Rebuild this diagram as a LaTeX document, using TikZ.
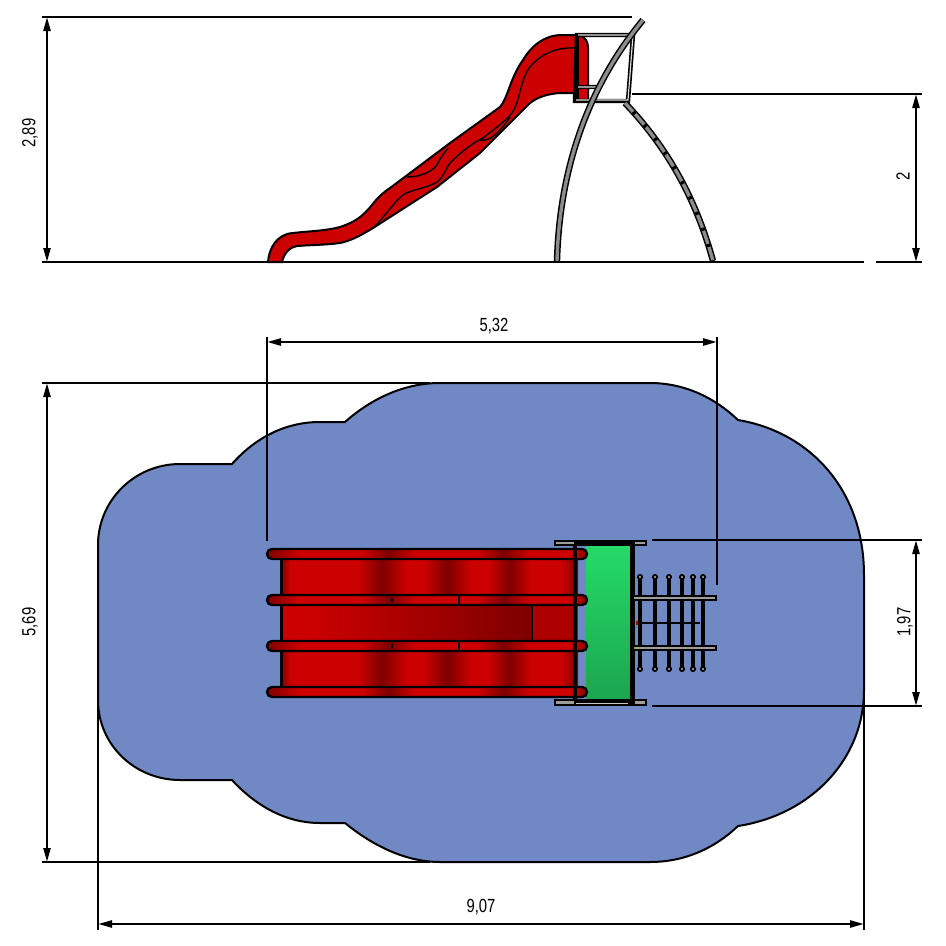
\documentclass[tikz,border=0pt]{standalone}
\usepackage{fontspec}
\setmainfont{Liberation Sans}
\usetikzlibrary{arrows.meta}
\definecolor{blobblue}{HTML}{7088C4}
\definecolor{slidered}{HTML}{CC0000}
\definecolor{sd}{HTML}{7E0000}
\definecolor{archgray}{HTML}{8C8C88}
\pgfdeclarehorizontalshading{panelshade}{100bp}{
 color(0bp)=(sd);color(25bp)=(sd);color(26.5bp)=(slidered);color(38bp)=(slidered);color(42bp)=(sd);
 color(46bp)=(slidered);color(49bp)=(slidered);color(53bp)=(sd);color(57bp)=(slidered);color(60bp)=(slidered);color(63.5bp)=(sd);
 color(67bp)=(slidered);color(72bp)=(slidered);color(75bp)=(sd);color(100bp)=(sd)}
\pgfdeclarehorizontalshading{midshade}{100bp}{
 color(0bp)=(slidered);color(25bp)=(slidered);color(30bp)=(slidered);color(75bp)=(sd);color(100bp)=(sd)}
\pgfdeclarehorizontalshading{railshade}{100bp}{
 color(0bp)=(slidered);color(25bp)=(sd);color(30bp)=(slidered);color(40bp)=(slidered);color(44bp)=(sd);color(48bp)=(slidered);
 color(58bp)=(slidered);color(62bp)=(sd);color(66bp)=(slidered);color(73bp)=(slidered);color(75bp)=(sd);color(100bp)=(sd)}
\tikzset{
 dimline/.style={line width=2.4pt,black,{Triangle[length=14pt,width=7pt]}-{Triangle[length=14pt,width=7pt]}},
 extline/.style={line width=2.4pt,black},
 dimtext/.style={font=\fontsize{19}{19}\selectfont,inner sep=0pt,text=black},
 outline/.style={draw=black,line width=2pt},
 thinline/.style={draw=black,line width=1.4pt},
 rail/.style={draw=black,line width=2.4pt,rounded corners=5pt,shading=railshade},
 rung/.style={line width=3.4pt,black},
 graybar/.style={fill=archgray!85!white,draw=black,line width=2pt},
}
\begin{document}
\begin{tikzpicture}[x=1pt,y=-1pt]
\useasboundingbox (0,0) rectangle (946,946);
% blue surface
\path[fill=blobblue,draw=black,line width=2pt]
 (650,383) .. controls (685,383) and (715,398) .. (738,420)
 .. controls (810,432) and (864,490) .. (864,575) -- (864,690)
 .. controls (864,760) and (810,815) .. (738,826)
 .. controls (715,848) and (685,862) .. (650,862) -- (440,862)
 .. controls (405,862) and (372,845) .. (345,823) -- (320,823)
 .. controls (285,823) and (255,805) .. (232,780) -- (180,780)
 .. controls (135,780) and (98,745) .. (98,700) -- (98,545)
 .. controls (98,500) and (135,464) .. (180,464) -- (232,464)
 .. controls (255,438) and (285,422) .. (320,422) -- (345,422)
 .. controls (372,398) and (405,383) .. (440,383) -- cycle;
% side view: slide
\path[outline,fill=slidered]
 (268,262) .. controls (269,248) and (277,234) .. (293,233)
 .. controls (310,231) and (325,231) .. (340,227)
 .. controls (355,222) and (362,217) .. (372,205)
 .. controls (378,197) and (384,192) .. (390,188)
 -- (450,143) -- (500,107)
 .. controls (508,98) and (510,78) .. (523,60)
 .. controls (532,45) and (545,35) .. (562,35) -- (577,35)
 -- (577,93) -- (560,93)
 .. controls (547,94) and (538,97) .. (530,103)
 -- (480,153) -- (437,187) -- (373,228)
 .. controls (360,236) and (350,241) .. (340,243)
 .. controls (325,245) and (310,245) .. (297,246)
 .. controls (290,247) and (284,253) .. (282,262) -- cycle;
\draw[thinline] (575,48) .. controls (555,47) and (540,55) .. (530,67)
 .. controls (520,80) and (520,102) .. (512,113)
 .. controls (505,122) and (490,132) .. (483,138)
 .. controls (472,143) and (458,155) .. (450,163)
 .. controls (445,170) and (443,178) .. (437,182)
 .. controls (425,189) and (412,189) .. (403,195)
 .. controls (395,201) and (382,220) .. (373,228);
\draw[thinline] (407,177) .. controls (420,177) and (432,172) .. (437,165) .. controls (440,158) and (445,152) .. (448,148);
\draw[thinline] (480,140) .. controls (490,142) and (500,132) .. (510,117);
\path[outline,fill=slidered] (577,35) -- (580,35) .. controls (586,38) and (588,42) .. (588,48) -- (588,101) -- (577,101) -- cycle;
\draw[line width=3.4pt,black] (577,35) -- (577,101);
% side view: platform frame
\draw[line width=4.4pt,black] (577,35) -- (633,35) -- (628,101) -- (575,101) -- cycle (577,87) -- (598,87);
\draw[line width=1.2pt,white!75!gray] (578,35) -- (633,35) -- (628,100) -- (576,100) (578,87) -- (596,87);
% arches
\draw[line width=6.4pt,black] (643,20) .. controls (600,72) and (560,150) .. (557,261);
\draw[line width=3.4pt,archgray] (643,20) .. controls (600,72) and (560,150) .. (557,261);
\draw[line width=6.4pt,black] (625,103) .. controls (665,145) and (695,195) .. (713,261);
\draw[line width=3.4pt,archgray] (625,103) .. controls (665,145) and (695,195) .. (713,261);
\draw[line width=3.6pt,black,dash pattern=on 3pt off 14pt,dash phase=-12pt] (625,103) .. controls (665,145) and (695,195) .. (713,261);
% dimension lines, side view
\coordinate (toplineL) at (42,17);
\coordinate (toplineR) at (632,17);
\coordinate (groundL) at (42,262);
\coordinate (groundR) at (864,262);
\draw[extline] (toplineL) -- (toplineR);
\draw[extline] (groundL) -- (groundR);
\draw[extline] (876,262) -- (922,262);
\draw[extline] (632,94) -- (922,94);
\draw[dimline] (47,17) -- (47,262);
\draw[dimline] (916,94) -- (916,262);
% slide panels, top view
\path[shade,shading=panelshade] (281,557) rectangle (578,597);
\path[shade,shading=panelshade] (281,649) rectangle (578,689);
\path[shade,shading=midshade] (281,603) rectangle (532,643);
\path[fill=slidered!85!black] (532,603) rectangle (578,643);
\draw[line width=3pt,black] (281,554) -- (281,692);
\draw[thinline] (532,603) -- (532,643);
% green chute
\shade[top color=green!60!cyan!60!black!0!white!0!black,bottom color=black] (0,0) rectangle (0,0);
\definecolor{gtop}{HTML}{25DA68}
\definecolor{gbot}{HTML}{1AA54E}
\path[top color=gtop,bottom color=gbot] (586,546) rectangle (630,702);
% platform top view
\draw[line width=3.4pt,black] (575,545) -- (575,700);
\draw[graybar] (555,541) rectangle (646,545);
\draw[graybar] (555,700) rectangle (646,705);
\path[fill=black] (574,540) rectangle (630,546);
\path[fill=black] (574,699) rectangle (630,704);
\draw[line width=1pt,archgray!50!white] (576,703) -- (628,703);
\draw[line width=5pt,black] (632,540) -- (632,704);
% rails
\draw[rail] (267,549) rectangle (587,559);
\draw[rail] (267,595) rectangle (587,605);
\draw[rail] (267,641) rectangle (587,651);
\draw[rail] (267,687) rectangle (587,697);
\draw[line width=1.8pt,black] (459,595) -- (459,605) (459,641) -- (459,651);
\path[fill=black] (391,598) rectangle (393,602) (391,644) rectangle (393,648);
\draw[line width=3.4pt,black] (575,545) -- (575,700);
% ladder
\foreach \lx in {640,655,669,682,693,703}{
 \draw[rung] (\lx,577) -- (\lx,669);
 \draw[black,line width=1.6pt,fill=archgray] (\lx,577) circle (2.2pt);
 \draw[black,line width=1.6pt,fill=archgray] (\lx,669) circle (2.2pt);
}
\draw[line width=2pt,black] (636,623) -- (700,623);
\path[fill=red!70!black] (636,621) rectangle (638,625);
\draw[graybar] (633,596) -- (716,596) -- (716,600) -- (633,600) -- cycle;
\draw[graybar] (633,646) -- (716,646) -- (716,650) -- (633,650) -- cycle;
% dimension lines, top view
\draw[extline] (267,337) -- (267,541);
\draw[extline] (717,337) -- (717,585);
\draw[dimline] (267,342) -- (717,342);
\draw[extline] (42,383) -- (430,383);
\draw[extline] (42,862) -- (430,862);
\draw[dimline] (47,383) -- (47,862);
\draw[extline] (652,540) -- (922,540);
\draw[extline] (652,706) -- (922,706);
\draw[dimline] (916,540) -- (916,706);
\draw[extline] (98,706) -- (98,930);
\draw[extline] (864,688) -- (864,930);
\draw[dimline] (98,924) -- (864,924);
% labels
\node[dimtext,rotate=90,xscale=.78] (l289) at (30,133) {2,89};
\node[dimtext,rotate=90,xscale=.78] (l2) at (903,176) {2};
\node[dimtext,xscale=.78] (l532) at (494,326) {5,32};
\node[dimtext,rotate=90,xscale=.78] (l569) at (30,622) {5,69};
\node[dimtext,rotate=90,xscale=.78] (l197) at (905,622) {1,97};
\node[dimtext,xscale=.78] (l907) at (481,907) {9,07};
\end{tikzpicture}
\end{document}
